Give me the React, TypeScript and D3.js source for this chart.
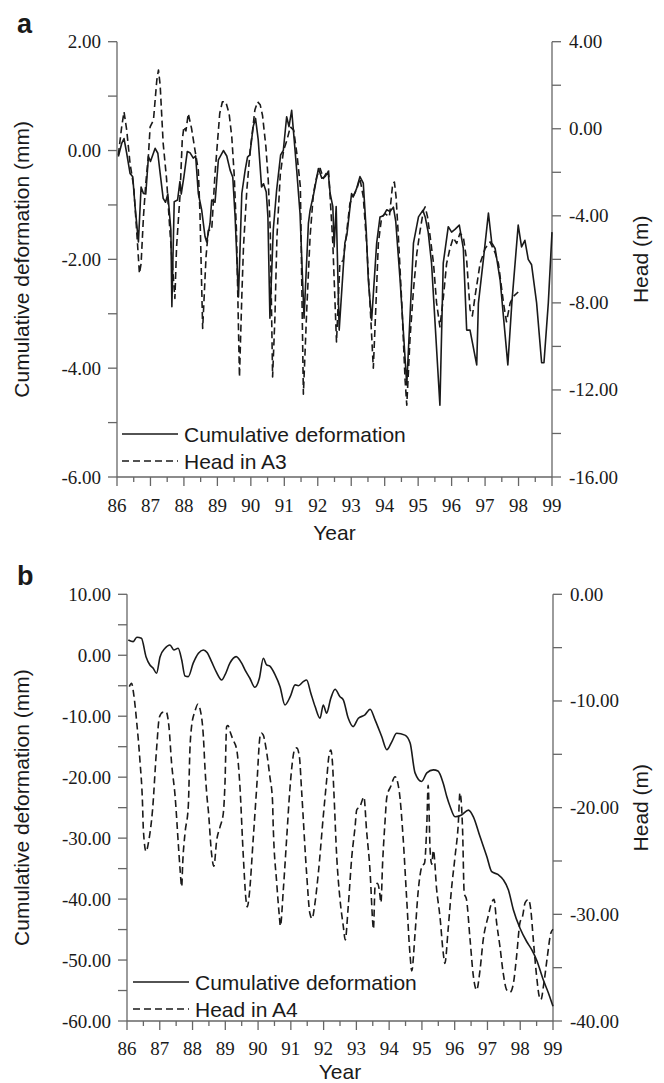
import React from 'react';
import * as d3 from 'd3';

// ---------- Panel a data ----------
const aDefYears = [86.04,86.14,86.21,86.29,86.39,86.47,86.54,86.64,86.72,86.79,86.86,86.94,87.0,87.14,87.22,87.29,87.38,87.45,87.52,87.61,87.64,87.71,87.81,87.88,87.92,88.0,88.1,88.18,88.28,88.35,88.43,88.53,88.63,88.68,88.78,88.83,88.93,89.03,89.18,89.28,89.38,89.46,89.53,89.63,89.73,89.83,89.9,89.97,90.07,90.14,90.22,90.32,90.38,90.46,90.51,90.57,90.67,90.77,90.89,90.97,91.07,91.14,91.22,91.28,91.37,91.47,91.59,91.72,91.77,91.88,92.02,92.12,92.22,92.31,92.37,92.45,92.49,92.55,92.64,92.81,92.87,93.01,93.06,93.16,93.26,93.36,93.45,93.51,93.61,93.76,93.86,93.96,94.06,94.16,94.26,94.33,94.46,94.66,94.86,95.01,95.14,95.21,95.3,95.4,95.65,95.75,95.9,96.0,96.1,96.23,96.35,96.45,96.55,96.75,96.8,96.95,97.1,97.2,97.3,97.45,97.68,97.8,97.99,98.09,98.19,98.29,98.39,98.54,98.69,98.76,98.89,99.0];
const aDefValues = [-0.11,0.13,0.22,-0.05,-0.42,-0.48,-1.03,-1.68,-0.67,-0.79,-0.8,-0.11,-0.2,0.04,-0.05,-0.42,-0.88,-0.95,-0.8,-1.46,-2.87,-0.94,-0.91,-0.57,-0.8,-0.48,-0.02,-0.04,-0.14,-0.1,-0.79,-1.09,-1.58,-1.68,-1.34,-0.91,-0.95,-0.17,0.0,-0.1,-0.36,-0.49,-1.22,-2.69,-0.79,-0.36,-0.12,-0.08,0.44,0.59,0.2,-0.67,-0.61,-0.76,-1.22,-3.08,-1.46,-0.73,-0.08,0.0,0.62,0.44,0.74,0.31,-0.36,-1.16,-3.08,-1.34,-1.1,-0.79,-0.33,-0.51,-0.48,-0.39,-0.79,-1.03,-1.77,-1.03,-3.3,-1.7,-1.55,-0.79,-0.85,-0.7,-0.48,-0.6,-1.5,-2.38,-3.12,-1.7,-1.22,-1.2,-1.09,-1.12,-1.04,-1.3,-2.38,-4.31,-1.7,-1.22,-1.1,-1.22,-1.5,-2.07,-4.68,-2.07,-1.4,-1.5,-1.45,-1.37,-1.8,-3.3,-3.3,-3.94,-2.81,-2.0,-1.15,-1.7,-1.8,-2.38,-3.94,-2.8,-1.37,-1.77,-1.65,-2.0,-2.1,-2.8,-3.9,-3.9,-2.8,-1.5];

const aHeadYears = [86.04,86.14,86.21,86.29,86.39,86.5,86.6,86.67,86.72,86.79,86.86,86.94,86.99,87.09,87.19,87.24,87.29,87.38,87.48,87.58,87.73,87.78,87.88,87.95,88.0,88.06,88.13,88.18,88.23,88.33,88.43,88.48,88.56,88.66,88.73,88.83,88.93,89.0,89.07,89.15,89.25,89.35,89.43,89.5,89.57,89.66,89.73,89.78,89.88,89.98,90.05,90.12,90.2,90.28,90.35,90.45,90.52,90.58,90.65,90.72,90.78,90.88,90.98,91.08,91.18,91.28,91.38,91.48,91.57,91.67,91.77,91.87,91.97,92.07,92.17,92.25,92.32,92.37,92.45,92.56,92.66,92.76,92.86,92.96,93.06,93.16,93.26,93.36,93.46,93.56,93.66,93.74,93.81,93.91,94.01,94.14,94.24,94.29,94.34,94.41,94.51,94.61,94.66,94.76,94.86,94.96,95.06,95.16,95.21,95.28,95.36,95.46,95.55,95.65,95.75,95.85,95.95,96.05,96.15,96.25,96.35,96.45,96.55,96.62,96.7,96.85,97.0,97.15,97.3,97.4,97.55,97.64,97.75,97.85,97.99];
const aHeadValues = [-1.21,0.09,0.78,-0.06,-1.59,-2.67,-4.97,-6.65,-6.2,-4.05,-2.51,-1.2,0.09,0.4,2.24,2.7,2.0,-0.67,-2.28,-4.66,-7.8,-5.43,-3.13,-0.52,0.09,-0.1,0.7,0.35,0.0,-0.98,-1.9,-3.9,-9.18,-5.9,-4.66,-4.66,-2.05,-0.67,0.7,1.24,1.24,0.7,-0.37,-2.05,-4.66,-11.4,-7.7,-5.43,-2.82,-0.98,-0.1,0.86,1.24,1.1,0.6,-0.83,-2.36,-4.66,-11.4,-8.64,-4.97,-2.1,-0.98,-0.52,0.09,-0.06,-1.2,-2.67,-12.2,-8.34,-4.97,-2.97,-2.2,-1.82,-2.28,-2.05,-1.9,-3.13,-5.27,-9.8,-6.19,-6.04,-4.8,-3.43,-3.1,-2.8,-2.28,-3.13,-5.27,-8.0,-11.0,-8.03,-5.27,-4.05,-3.9,-4.05,-2.51,-2.45,-3.13,-4.97,-8.0,-11.55,-12.7,-9.56,-7.4,-5.73,-4.66,-3.74,-3.59,-4.05,-4.97,-6.2,-8.0,-9.1,-7.8,-6.2,-5.5,-5.0,-5.27,-4.8,-4.97,-6.04,-8.3,-8.6,-7.7,-6.2,-5.5,-5.2,-5.7,-6.2,-8.0,-8.87,-8.0,-7.7,-7.5];

const aLeftTicks = [2, 0, -2, -4, -6];
const aLeftMinor = [1, -1, -3, -5];
const aRightTicks = [4, 0, -4, -8, -12, -16];
const aRightMinor = [2, -2, -6, -10, -14];

// ---------- Panel b data ----------
const bDefYears = [86.04,86.19,86.3,86.44,86.58,86.7,86.8,86.9,87.01,87.16,87.31,87.43,87.56,87.67,87.77,87.87,88.02,88.18,88.33,88.45,88.58,88.72,88.89,88.99,89.14,89.33,89.5,89.6,89.75,89.9,90.04,90.16,90.26,90.36,90.52,90.67,90.82,90.98,91.13,91.23,91.38,91.48,91.61,91.74,91.89,91.99,92.09,92.22,92.35,92.5,92.6,92.75,92.9,93.06,93.26,93.42,93.57,93.77,93.93,94.08,94.23,94.48,94.64,94.79,94.99,95.15,95.35,95.49,95.65,95.76,95.86,96.01,96.21,96.42,96.57,96.77,96.98,97.13,97.33,97.48,97.64,97.79,97.99,98.2,98.35,98.5,98.7,98.86,99.0];
const bDefValues = [2.51,2.23,2.95,2.8,-0.23,-1.59,-2.13,-2.95,-0.23,1.15,1.69,0.87,1.15,-0.77,-3.4,-3.5,-1.3,0.33,0.87,0.4,-1.05,-2.68,-4.05,-3.23,-1.3,-0.23,-1.3,-2.4,-3.77,-5.25,-3.77,-0.5,-1.59,-1.8,-3.23,-5.15,-8.15,-6.8,-4.86,-5.0,-4.33,-4.05,-6.23,-8.42,-10.33,-8.15,-9.5,-7.05,-5.57,-6.8,-7.3,-10.3,-11.7,-10.33,-9.79,-8.85,-10.6,-13.3,-15.5,-14.2,-12.8,-13.1,-14.4,-19.3,-20.7,-19.3,-18.8,-19.0,-21.0,-23.2,-24.8,-26.5,-26.2,-25.4,-26.5,-29.7,-33.0,-35.5,-36.0,-36.8,-38.5,-41.75,-44.75,-47.0,-48.3,-50.0,-53.2,-55.4,-57.6];

const bHeadYears = [86.07,86.14,86.2,86.3,86.4,86.47,86.5,86.58,86.67,86.78,86.9,86.99,87.09,87.19,87.28,87.36,87.47,87.57,87.62,87.67,87.7,87.77,87.87,87.92,87.97,88.08,88.16,88.24,88.33,88.38,88.45,88.48,88.58,88.65,88.74,88.84,88.94,88.99,89.04,89.08,89.16,89.23,89.35,89.44,89.55,89.63,89.67,89.73,89.85,89.96,90.06,90.1,90.16,90.23,90.36,90.44,90.46,90.57,90.65,90.68,90.77,90.87,90.97,91.03,91.11,91.18,91.26,91.33,91.48,91.58,91.65,91.72,91.84,91.99,92.09,92.16,92.22,92.27,92.31,92.4,92.5,92.6,92.66,92.75,92.86,92.96,93.01,93.11,93.23,93.31,93.42,93.5,93.52,93.57,93.64,93.7,93.75,93.8,93.87,93.93,94.05,94.18,94.3,94.43,94.53,94.64,94.69,94.79,94.89,95.0,95.08,95.15,95.19,95.25,95.3,95.35,95.45,95.55,95.65,95.7,95.8,95.9,96.01,96.11,96.16,96.24,96.29,96.36,96.47,96.57,96.67,96.77,96.87,97.02,97.13,97.2,97.28,97.38,97.48,97.59,97.69,97.79,97.89,97.99,98.07,98.15,98.25,98.32,98.4,98.5,98.58,98.63,98.72,98.83,98.93,99.0];
const bHeadValues = [-8.65,-8.34,-9.27,-12.1,-15.8,-19.3,-22.1,-24.1,-23.0,-20.2,-14.6,-11.5,-11.05,-11.0,-12.4,-15.8,-19.0,-23.6,-25.8,-27.4,-25.2,-22.4,-19.9,-14.6,-12.4,-10.9,-10.3,-10.9,-13.3,-16.3,-19.3,-20.2,-24.3,-25.5,-23.0,-21.8,-20.5,-17.7,-12.4,-12.3,-13.0,-13.6,-14.6,-17.7,-24.6,-28.6,-29.3,-28.2,-23.0,-18.0,-13.3,-13.0,-13.2,-14.2,-17.1,-19.3,-21.5,-27.1,-30.2,-31.1,-27.7,-23.0,-18.3,-16.2,-14.6,-14.4,-15.2,-18.5,-26.1,-29.9,-30.4,-29.3,-26.1,-20.8,-17.5,-15.2,-14.6,-15.8,-18.3,-24.6,-28.6,-31.1,-32.4,-29.3,-24.6,-21.8,-20.2,-19.9,-19.0,-22.1,-26.1,-30.8,-31.4,-27.4,-27.1,-27.7,-28.9,-25.2,-21.5,-19.0,-18.0,-17.1,-18.3,-23.0,-28.3,-33.9,-35.3,-31.8,-27.7,-25.5,-25.2,-21.5,-17.9,-24.0,-25.3,-24.0,-27.7,-30.2,-33.6,-34.6,-31.4,-27.7,-24.6,-21.5,-18.6,-22.0,-28.0,-28.6,-32.4,-35.8,-37.1,-35.3,-32.4,-30.2,-28.9,-28.6,-30.8,-33.0,-35.5,-37.1,-37.3,-36.5,-33.9,-30.8,-30.2,-28.9,-28.6,-29.5,-32.4,-35.8,-37.7,-38.0,-36.5,-33.9,-31.8,-31.4];

const bLeftTicks = [10, 0, -10, -20, -30, -40, -50, -60];
const bLeftMinor = [5, -5, -15, -25, -35, -45, -55];
const bRightTicks = [0, -10, -20, -30, -40];
const bRightMinor = [-5, -15, -25, -35];

const yearTicks = [86, 87, 88, 89, 90, 91, 92, 93, 94, 95, 96, 97, 98, 99];
const yearMinor = [86.5, 87.5, 88.5, 89.5, 90.5, 91.5, 92.5, 93.5, 94.5, 95.5, 96.5, 97.5, 98.5];

const SERIF = "'Liberation Serif', 'Times New Roman', serif";
const SANS = "'Liberation Sans', Arial, sans-serif";
const AXIS = '#666';
const INK = '#1a1a1a';

const fmt = (v: number) => (Object.is(v, -0) ? 0 : v).toFixed(2);

type PanelProps = {
  letter: string;
  x0: number; x1: number; yTop: number; yBot: number;
  leftDomain: [number, number]; rightDomain: [number, number];
  leftTicks: number[]; leftMinor: number[];
  rightTicks: number[]; rightMinor: number[];
  defT: number[]; defV: number[];
  headT: number[]; headV: number[];
  headLabel: string;
  curve: d3.CurveFactory;
  legendX0: number; legendY: number;
  xLabelOff: number; yearOff: number;
};

function Panel(p: PanelProps) {
  const x = d3.scaleLinear().domain([86, 99]).range([p.x0, p.x1]);
  const yL = d3.scaleLinear().domain(p.leftDomain).range([p.yBot, p.yTop]);
  const yR = d3.scaleLinear().domain(p.rightDomain).range([p.yBot, p.yTop]);
  const defLine = d3.line<number>().x((_, i) => x(p.defT[i])).y((d) => yL(d)).curve(p.curve);
  const headLine = d3.line<number>().x((_, i) => x(p.headT[i])).y((d) => yR(d)).curve(p.curve);
  const midY = (p.yTop + p.yBot) / 2;
  const midX = (p.x0 + p.x1) / 2;
  const tk = 9;
  return (
    <g>
      <text x={17} y={p.yTop - 9} fontFamily={SANS} fontWeight="bold" fontSize={27} fill={INK}>{p.letter}</text>
      {/* axes */}
      <line x1={p.x0} x2={p.x0} y1={p.yTop} y2={p.yBot} stroke={AXIS} strokeWidth={1.3} />
      <line x1={p.x1} x2={p.x1} y1={p.yTop} y2={p.yBot} stroke={AXIS} strokeWidth={1.3} />
      <line x1={p.x0} x2={p.x1} y1={p.yBot} y2={p.yBot} stroke={AXIS} strokeWidth={1.3} />
      {[...p.leftTicks, ...p.leftMinor].map((v, i) => (
        <line key={'lt' + i} x1={p.x0 - tk} x2={p.x0} y1={yL(v)} y2={yL(v)} stroke={AXIS} strokeWidth={1.3} />
      ))}
      {p.leftTicks.map((v, i) => (
        <text key={'ll' + i} x={p.x0 - 16} y={yL(v) + 6.5} textAnchor="end" fontFamily={SERIF} fontSize={19} fill={INK}>{fmt(v)}</text>
      ))}
      {[...p.rightTicks, ...p.rightMinor].map((v, i) => (
        <line key={'rt' + i} x1={p.x1} x2={p.x1 + tk} y1={yR(v)} y2={yR(v)} stroke={AXIS} strokeWidth={1.3} />
      ))}
      {p.rightTicks.map((v, i) => (
        <text key={'rl' + i} x={p.x1 + 17} y={yR(v) + 6.5} textAnchor="start" fontFamily={SERIF} fontSize={19} fill={INK}>{fmt(v)}</text>
      ))}
      {yearTicks.map((v, i) => (
        <line key={'xt' + i} x1={x(v)} x2={x(v)} y1={p.yBot} y2={p.yBot + 9} stroke={AXIS} strokeWidth={1.3} />
      ))}
      {yearMinor.map((v, i) => (
        <line key={'xm' + i} x1={x(v)} x2={x(v)} y1={p.yBot} y2={p.yBot + 5} stroke={AXIS} strokeWidth={1.3} />
      ))}
      {yearTicks.map((v, i) => (
        <text key={'xl' + i} x={x(v)} y={p.yBot + p.xLabelOff} textAnchor="middle" fontFamily={SERIF} fontSize={19} fill={INK}>{v}</text>
      ))}
      <text x={midX} y={p.yBot + p.yearOff} textAnchor="middle" fontFamily={SANS} fontSize={21} fill={INK}>Year</text>
      <text transform={`translate(29,${midY}) rotate(-90)`} textAnchor="middle" fontFamily={SANS} fontSize={21} fill={INK}>Cumulative deformation (mm)</text>
      <text transform={`translate(648,${midY}) rotate(-90)`} textAnchor="middle" fontFamily={SANS} fontSize={21} fill={INK}>Head (m)</text>
      {/* series */}
      <path d={defLine(p.defV) || ''} fill="none" stroke={INK} strokeWidth={1.6} strokeLinejoin="round" />
      <path d={headLine(p.headV) || ''} fill="none" stroke={INK} strokeWidth={1.6} strokeDasharray="7,4" strokeLinejoin="round" />
      {/* legend */}
      <line x1={p.legendX0} x2={p.legendX0 + 56} y1={p.legendY} y2={p.legendY} stroke={INK} strokeWidth={1.6} />
      <text x={p.legendX0 + 62} y={p.legendY + 8} fontFamily={SANS} fontSize={21} fill={INK}>Cumulative deformation</text>
      <line x1={p.legendX0} x2={p.legendX0 + 56} y1={p.legendY + 27} y2={p.legendY + 27} stroke={INK} strokeWidth={1.6} strokeDasharray="7,4" />
      <text x={p.legendX0 + 62} y={p.legendY + 35} fontFamily={SANS} fontSize={21} fill={INK}>{p.headLabel}</text>
    </g>
  );
}

export default function App() {
  return (
    <svg width={664} height={1083} style={{ position: 'absolute', left: 0, top: 0, background: '#fff' }}>
      <rect x={0} y={0} width={664} height={1083} fill="#fff" />
      <Panel
        letter="a" x0={117} x1={552} yTop={41.7} yBot={477}
        leftDomain={[-6, 2]} rightDomain={[-16, 4]}
        leftTicks={aLeftTicks} leftMinor={aLeftMinor}
        rightTicks={aRightTicks} rightMinor={aRightMinor}
        defT={aDefYears} defV={aDefValues}
        headT={aHeadYears} headV={aHeadValues}
        headLabel="Head in A3" curve={d3.curveLinear}
        legendX0={122} legendY={434}
        xLabelOff={35} yearOff={63}
      />
      <Panel
        letter="b" x0={127} x1={553} yTop={594.3} yBot={1021}
        leftDomain={[-60, 10]} rightDomain={[-40, 0]}
        leftTicks={bLeftTicks} leftMinor={bLeftMinor}
        rightTicks={bRightTicks} rightMinor={bRightMinor}
        defT={bDefYears} defV={bDefValues}
        headT={bHeadYears} headV={bHeadValues}
        headLabel="Head in A4" curve={d3.curveMonotoneX}
        legendX0={133} legendY={982}
        xLabelOff={34} yearOff={58}
      />
    </svg>
  );
}
